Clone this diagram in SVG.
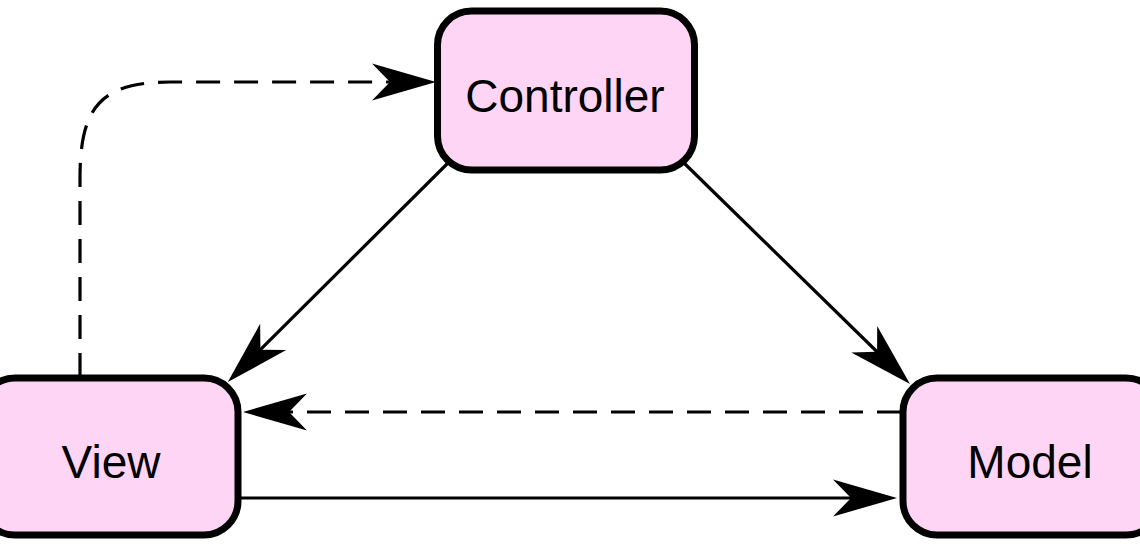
<svg xmlns="http://www.w3.org/2000/svg" width="1140" height="548" viewBox="0 0 1140 548">
  <style>
    .node rect { fill: #ffd5f5; stroke: #000; stroke-width: 7; }
    .node text { font-family: "Liberation Sans", Arial, sans-serif; font-size: 46px; fill: #000; text-anchor: middle; }
    .edge { fill: none; stroke: #000; stroke-width: 3.2; }
    .dash { stroke-dasharray: 24 14; }
  </style>
  <defs>
    <marker id="arrow" markerUnits="userSpaceOnUse" orient="auto" refX="0" refY="0" markerWidth="80" markerHeight="50" viewBox="-50 -25 80 50" overflow="visible">
      <path d="M20,0 L-44,-18.5 L-26,0 L-44,18.5 Z" fill="#000"/>
    </marker>
  </defs>
  <rect width="1140" height="548" fill="#fff"/>
  <g id="connectors">
    <path class="edge" d="M448,163 L242,368" marker-end="url(#arrow)"/>
    <path class="edge" d="M683,162 L895.7,370" marker-end="url(#arrow)"/>
    <path class="edge dash" d="M901,412 L263,412" marker-end="url(#arrow)"/>
    <path class="edge" d="M238,498 L877,498" marker-end="url(#arrow)"/>
    <path class="edge dash" d="M80,377 V178 C80,108 100,82 170,82 H416" marker-end="url(#arrow)"/>
  </g>
  <g id="controller" class="node">
    <rect x="437.5" y="11" width="257" height="159" rx="34" ry="34"/>
    <text x="565" y="112">Controller</text>
  </g>
  <g id="view" class="node">
    <rect x="-19" y="378" width="257" height="157" rx="34" ry="34"/>
    <text x="111" y="478">View</text>
  </g>
  <g id="model" class="node">
    <rect x="903" y="378" width="257" height="157" rx="34" ry="34"/>
    <text x="1030" y="478">Model</text>
  </g>
</svg>
